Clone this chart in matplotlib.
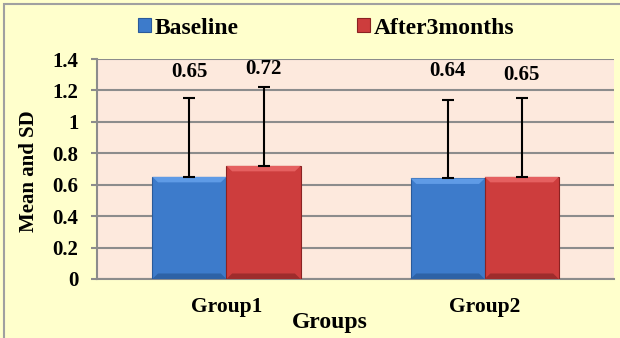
import numpy as np
import matplotlib.pyplot as plt
from matplotlib.patches import Rectangle, Polygon

groups = ['Group1', 'Group2']
series = ['Baseline', 'After3months']
baseline = [0.65, 0.64]
after = [0.72, 0.65]
baseline_sd = [0.50, 0.50]
after_sd = [0.50, 0.50]
# heights where the value labels sit (they float above the error bars)
baseline_lbl_y = [1.317, 1.324]
after_lbl_y = [1.336, 1.298]

plt.rcParams['font.family'] = ['Liberation Serif', 'DejaVu Serif']
plt.rcParams['font.weight'] = 'bold'

fig = plt.figure(figsize=(6.2, 3.38), dpi=100)
fig.patch.set_facecolor('#FFFFCC')
# outer frame, only top/left edges fall inside the picture
fig.add_artist(Rectangle((4 / 620, -0.05), 1.2, 1.05 - 4 / 338, transform=fig.transFigure,
                         fill=False, edgecolor='#A0A0A0', linewidth=1.5))

ax = fig.add_axes([0.157, 0.1746, 0.833, 0.6508])
ax.set_facecolor('#FDE9DD')

x = np.arange(len(groups))
w = 0.287

b1 = ax.bar(x - w / 2, baseline, w, color='#3D7BCB', edgecolor='#2A5A9A', linewidth=0.8,
            label=series[0], zorder=3)
b2 = ax.bar(x + w / 2, after, w, color='#CD3D3D', edgecolor='#8A2222', linewidth=0.8,
            label=series[1], zorder=3)


def bevel(bars, light, dark):
    # light band on top, darker band at the bottom, like the office bevel look
    bx, by = 0.022, 0.035
    for p in bars:
        x0, y0 = p.get_x(), p.get_y()
        x1, y1 = x0 + p.get_width(), y0 + p.get_height()
        ax.add_patch(Polygon([(x0, y1), (x1, y1), (x1 - bx, y1 - by), (x0 + bx, y1 - by)],
                             closed=True, facecolor=light, edgecolor='none', zorder=3.5))
        ax.add_patch(Polygon([(x0, y0), (x1, y0), (x1 - bx, y0 + by), (x0 + bx, y0 + by)],
                             closed=True, facecolor=dark, edgecolor='none', zorder=3.5))


bevel(b1, '#5F9BE6', '#2E62A6')
bevel(b2, '#E56060', '#9E2C2C')

# upper error bars only
ax.errorbar(x - w / 2, baseline, yerr=[np.zeros(2), baseline_sd], fmt='none',
            ecolor='black', elinewidth=1.5, capsize=4, capthick=1.5, zorder=4)
ax.errorbar(x + w / 2, after, yerr=[np.zeros(2), after_sd], fmt='none',
            ecolor='black', elinewidth=1.5, capsize=4, capthick=1.5, zorder=4)

# value labels
for xi, v, yl in zip(x - w / 2, baseline, baseline_lbl_y):
    ax.text(xi, yl, f'{v:.2f}', ha='center', va='center', fontsize=15, fontweight='bold')
for xi, v, yl in zip(x + w / 2, after, after_lbl_y):
    ax.text(xi, yl, f'{v:.2f}', ha='center', va='center', fontsize=15, fontweight='bold')

ax.set_xlim(-0.5, 1.5)
ax.set_ylim(0, 1.4)
ax.set_yticks(np.arange(0, 1.41, 0.2))
ax.set_yticklabels(['0', '0.2', '0.4', '0.6', '0.8', '1', '1.2', '1.4'])
ax.set_xticks(x)
ax.set_xticklabels(groups)
ax.tick_params(axis='y', length=4.5, width=1.5, color='#8C8C8C', labelsize=15, pad=9)
ax.tick_params(axis='x', length=0, labelsize=15.5, pad=13)
ax.grid(axis='y', color='#8C8C8C', linewidth=1.5, zorder=0)
ax.set_axisbelow(True)
for s in ['top', 'right']:
    ax.spines[s].set_visible(False)
for s in ['left', 'bottom']:
    ax.spines[s].set_color('#8C8C8C')
    ax.spines[s].set_linewidth(1.5)

ax.set_ylabel('Mean and SD', fontsize=15, fontweight='bold')
ax.yaxis.set_label_coords(-0.112, 0.49)
ax.set_xlabel('Groups', fontsize=17, fontweight='bold')
ax.xaxis.set_label_coords(0.45, -0.15)

leg = fig.legend(handles=[b1, b2], loc='center', bbox_to_anchor=(0.526, 0.917), ncol=2,
                 frameon=False, fontsize=17, handlelength=0.55, handleheight=0.55,
                 handletextpad=0.17, columnspacing=5.0, borderpad=0)

fig.savefig('out.png', dpi=100, facecolor=fig.get_facecolor())
